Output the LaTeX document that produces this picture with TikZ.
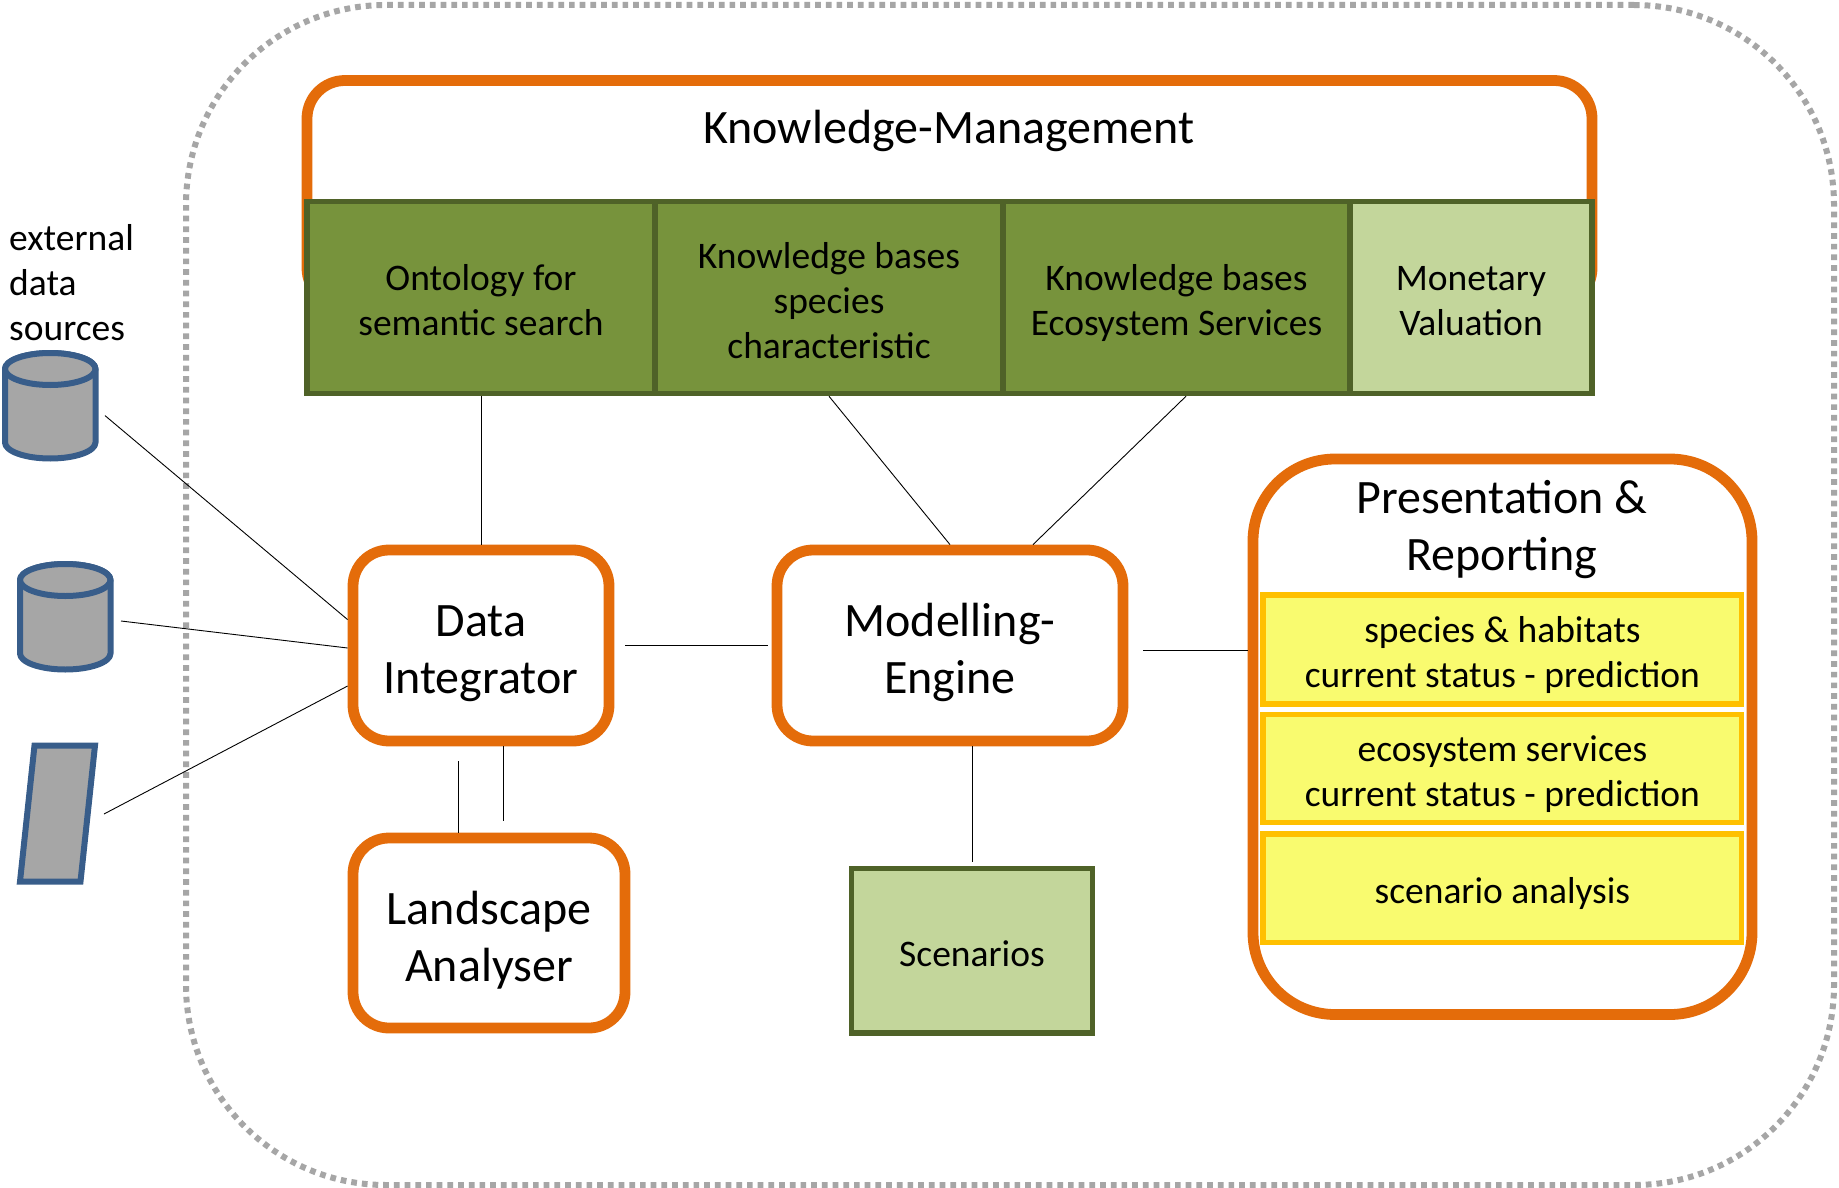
\documentclass[tikz,border=0pt]{standalone}
\usepackage{fontspec}
\setmainfont{Carlito}
\newcommand{\sS}{\rule[-7pt]{0pt}{45pt}}
\newcommand{\lS}{\rule[-9pt]{0pt}{57pt}}
\tikzset{
  base/.style={inner sep=0pt,align=center,text=black},
  small/.style={font=\fontsize{37.5}{45}\selectfont},
  large/.style={font=\fontsize{48}{57}\selectfont},
  orangebox/.style={base,large,draw=orangeC,line width=10.8pt,fill=white,rounded corners=36pt},
  greenbox/.style={base,small,draw=greenS,line width=5.5pt,fill=greenF},
  lightbox/.style={base,small,draw=greenS,line width=5.5pt,fill=greenL},
  yellowbox/.style={base,small,draw=yellowS,line width=5.2pt,fill=yellowF},
  src/.style={draw=blueS,line width=6pt,fill=grayF,line join=round},
  conn/.style={draw=black,line width=0.9pt}
}
\definecolor{orangeC}{HTML}{E46C0A}
\definecolor{greenS}{HTML}{4F6228}
\definecolor{greenF}{HTML}{77933C}
\definecolor{greenL}{HTML}{C3D69B}
\definecolor{yellowS}{HTML}{FFC000}
\definecolor{yellowF}{HTML}{F9FB6F}
\definecolor{blueS}{HTML}{385D8A}
\definecolor{grayF}{HTML}{A6A6A6}
\begin{document}
\begin{tikzpicture}[x=1pt,y=-1pt]
\useasboundingbox[fill=white] (0,0) rectangle (1839,1188);
% outer dotted frame
\node[name=frame,draw=grayF,line width=6pt,dash pattern=on 5.7pt off 5pt,rounded corners=200pt,
  minimum width=1648pt,minimum height=1180pt,inner sep=0pt] at (1010,595) {};
% knowledge management
\node[orangebox,name=km,minimum width=1285pt,minimum height=225.5pt,rounded corners=38pt] at (949.5,193.25) {};
\node[base,large,name=kmtitle] at (949,124.5) {\lS Knowledge-Management};
\node[greenbox,name=ont,minimum width=348pt,minimum height=192pt] at (481,297.5) {\sS Ontology for\\semantic search\sS};
\node[greenbox,name=kbs,minimum width=348pt,minimum height=192pt] at (829,297.5) {\sS Knowledge bases\\species\\characteristic\sS};
\node[greenbox,name=kbe,minimum width=347pt,minimum height=192pt] at (1176.5,297.5) {\sS Knowledge bases\\Ecosystem Services\sS};
\node[lightbox,name=mon,minimum width=242pt,minimum height=192pt] at (1471,297.5) {\sS Monetary\\Valuation\sS};
% engines
\node[orangebox,name=di,minimum width=256pt,minimum height=191pt] at (481,645.5) {\lS Data\\Integrator\lS};
\node[orangebox,name=la,minimum width=272pt,minimum height=190pt] at (489,933) {\lS Landscape\\Analyser\lS};
\node[orangebox,name=me,minimum width=346pt,minimum height=191pt] at (950,645.5) {\lS Modelling-\\Engine\lS};
\node[lightbox,name=sc,minimum width=241pt,minimum height=164.5pt] at (972,950.5) {\sS Scenarios};
% presentation
\node[orangebox,name=pr,minimum width=499pt,minimum height=555.5pt,rounded corners=82pt] at (1502.5,736.75) {};
\node[base,large,name=prtitle] at (1502,522.5) {\lS Presentation \&\\Reporting\lS};
\node[yellowbox,name=y1,minimum width=478.8pt,minimum height=109pt] at (1502.4,649.5) {\sS species \& habitats\\current status - prediction\sS};
\node[yellowbox,name=y2,minimum width=478.8pt,minimum height=108pt] at (1502.4,768.7) {\sS ecosystem services\\current status - prediction\sS};
\node[yellowbox,name=y3,minimum width=478.8pt,minimum height=108.8pt] at (1502.4,888.4) {\sS scenario analysis};
% external sources
\node[base,small,name=ext,align=left,anchor=west] at (9,279.5) {\sS external\\data\\sources\sS};
\path[src] (5,369) -- (5,442.5) arc[x radius=45.25pt,y radius=16pt,start angle=180,end angle=360] -- (95.5,369) arc[x radius=45.25pt,y radius=16pt,start angle=0,end angle=180] -- cycle;
\path[src] (50.25,369) ellipse[x radius=45.25pt,y radius=16pt];
\path[src] (20,580) -- (20,653.5) arc[x radius=45.25pt,y radius=16pt,start angle=180,end angle=360] -- (110.5,580) arc[x radius=45.25pt,y radius=16pt,start angle=0,end angle=180] -- cycle;
\path[src] (65.25,580) ellipse[x radius=45.25pt,y radius=16pt];
\path[src,line join=miter] (34.5,745.5) -- (95,745.5) -- (80.5,881.5) -- (20,881.5) -- cycle;
\coordinate (s1) at (105,415.6);
\coordinate (s2) at (121,621);
\coordinate (s3) at (104,814);
% connectors
\draw[conn] (s1) -- ([yshift=25.9pt]di.west);
\draw[conn] (s2) -- ([yshift=-2.5pt]di.west);
\draw[conn] (s3) -- ([yshift=-40.5pt]di.west);
\draw[conn] (ont.south) -- (di.north);
\draw[conn] (kbs.south) -- (me.north);
\draw[conn] ([xshift=9.5pt]kbe.south) -- ([xshift=83pt]me.north);
\draw[conn,shorten <=11pt,shorten >=4pt] (di.east) -- (me.west);
\draw[conn,shorten <=15pt] ([yshift=-4.5pt]me.east) -- ([yshift=-4.5pt]me.east -| pr.west);
\draw[conn,shorten >=4pt] ([xshift=22pt]me.south) -- (sc.north);
\draw[conn,shorten <=15pt] ([xshift=-22.5pt]di.south) -- ([xshift=-22.5pt]di.south |- la.north);
\draw[conn,shorten >=12pt] ([xshift=22pt]di.south) -- ([xshift=22pt]di.south |- la.north);
\end{tikzpicture}
\end{document}
